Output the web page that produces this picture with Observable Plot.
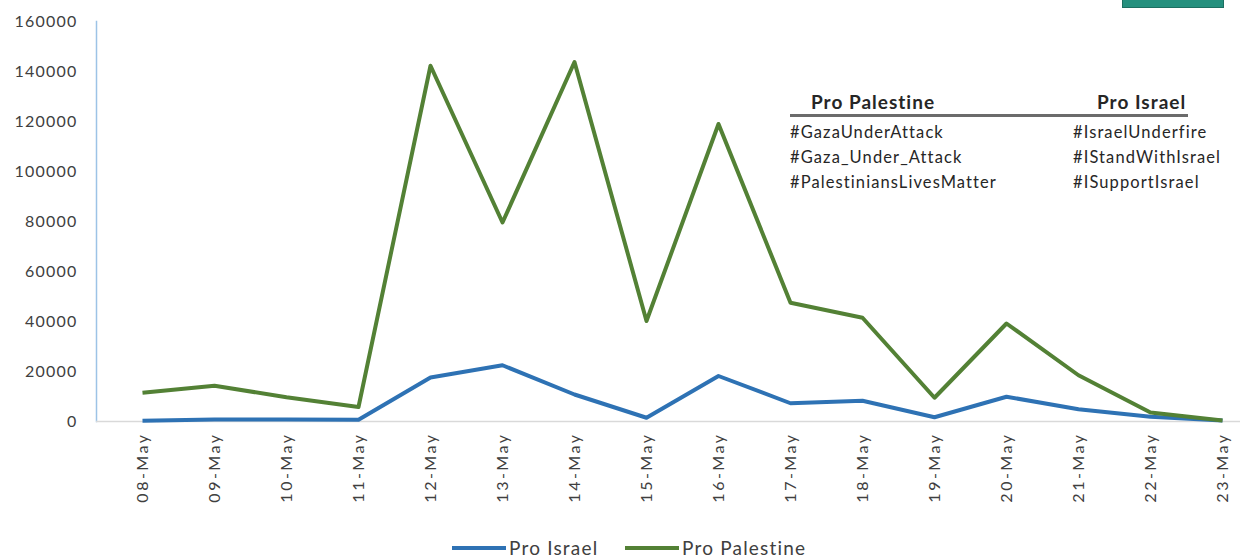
<!DOCTYPE html>
<html>
<head>
<meta charset="utf-8">
<script src="https://cdn.jsdelivr.net/npm/d3@7"></script>
<script src="https://cdn.jsdelivr.net/npm/@observablehq/plot@0.6"></script>
<style>
  html, body { margin: 0; padding: 0; background: #ffffff; }
  body { width: 1240px; height: 559px; position: relative; overflow: hidden; font-family: Lato, "Open Sans", sans-serif; }
  #chart { position: absolute; left: 0; top: 0; }
  g[aria-label="y-axis tick label"] text { letter-spacing: 1.2px; }
  g[aria-label="x-axis tick label"] text { letter-spacing: 2.5px; }
  #topbox { position: absolute; left: 1122px; top: 0; width: 100px; height: 7px; background: #25907e; border: 1px solid #1c6f61; border-top: none; }
  #note { position: absolute; left: 790px; top: 90px; width: 398px; color: #262626; }
  #note .head { position: relative; height: 24px; border-bottom: 3px solid #6b6b6b; font-weight: 700; font-size: 19px; letter-spacing: 1px; }
  #note .head span { position: absolute; top: 0; }
  #note .row { position: relative; height: 25px; font-size: 16.5px; letter-spacing: 1.1px; }
  #note .row span { position: absolute; top: 5px; }
  #legend { position: absolute; top: 536px; left: 0; width: 1240px; height: 24px; }
  #legend .item { position: absolute; top: 0; display: flex; align-items: center; font-size: 19px; letter-spacing: 1.2px; color: #404040; }
  #legend .sw { width: 54px; height: 4px; margin-right: 3px; }
</style>
</head>
<body>
<div id="chart"></div>
<div id="topbox"></div>
<div id="note"></div>
<div id="legend"></div>
<script>
// ---- data ----
const dates = ["08-May","09-May","10-May","11-May","12-May","13-May","14-May","15-May",
               "16-May","17-May","18-May","19-May","20-May","21-May","22-May","23-May"];
const proIsrael    = [300, 800, 800, 700, 17600, 22500, 10800, 1500, 18200, 7300, 8300, 1700, 9900, 4900, 1900, 400];
const proPalestine = [11500, 14300, 9700, 5800, 142300, 79600, 143800, 40200, 119000, 47500, 41500, 9500, 39200, 18500, 3600, 400];
const seriesNames = ["Pro Israel", "Pro Palestine"];
const seriesColors = ["#2e72b4", "#538135"];
const yTicks = [0, 20000, 40000, 60000, 80000, 100000, 120000, 140000, 160000];
const palestineTags = ["#GazaUnderAttack", "#Gaza_Under_Attack", "#PalestiniansLivesMatter"];
const israelTags = ["#IsraelUnderfire", "#IStandWithIsrael", "#ISupportIsrael"];

const rows = dates.flatMap((d, i) => [
  {date: d, series: seriesNames[0], value: proIsrael[i]},
  {date: d, series: seriesNames[1], value: proPalestine[i]}
]);

const chart = Plot.plot({
  width: 1240,
  height: 520,
  marginLeft: 96,
  marginRight: 0,
  marginTop: 21,
  marginBottom: 99,
  style: {fontFamily: "Lato, 'Open Sans', sans-serif", background: "white", overflow: "visible"},
  x: {type: "point", domain: dates, padding: 0, insetLeft: 39, insetRight: 12},
  y: {domain: [0, 160000]},
  color: {domain: seriesNames, range: seriesColors},
  marks: [
    Plot.frame({anchor: "left", stroke: "#9dc3e6", strokeWidth: 1.5}),
    Plot.ruleY([0], {stroke: "#d9d9d9", strokeWidth: 1.5}),
    Plot.axisY({ticks: yTicks, tickSize: 0, tickPadding: 19, tickFormat: d3.format("d"),
                label: null, fontSize: 16, color: "#404040"}),
    Plot.axisX({tickRotate: -90, tickSize: 0, tickPadding: 11, label: null, fontSize: 16, color: "#404040"}),
    Plot.line(rows, {x: "date", y: "value", z: "series", stroke: "series", strokeWidth: 4,
                     strokeLinejoin: "round", strokeLinecap: "butt"})
  ]
});
document.getElementById("chart").appendChild(chart);

// ---- hashtag table ----
const note = document.getElementById("note");
const head = document.createElement("div");
head.className = "head";
head.innerHTML = `<span style="left:21px">Pro Palestine</span><span style="left:307px">Pro Israel</span>`;
note.appendChild(head);
palestineTags.forEach((t, i) => {
  const r = document.createElement("div");
  r.className = "row";
  const a = document.createElement("span"); a.style.left = "0px"; a.textContent = t;
  const b = document.createElement("span"); b.style.left = "283px"; b.textContent = israelTags[i];
  r.appendChild(a); r.appendChild(b);
  note.appendChild(r);
});

// ---- legend ----
const legend = document.getElementById("legend");
const legendLefts = [452, 625];
seriesNames.forEach((s, i) => {
  const it = document.createElement("div");
  it.className = "item";
  it.style.left = legendLefts[i] + "px";
  const sw = document.createElement("div");
  sw.className = "sw";
  sw.style.background = seriesColors[i];
  const tx = document.createElement("span");
  tx.textContent = s;
  it.appendChild(sw); it.appendChild(tx);
  legend.appendChild(it);
});
</script>
</body>
</html>
